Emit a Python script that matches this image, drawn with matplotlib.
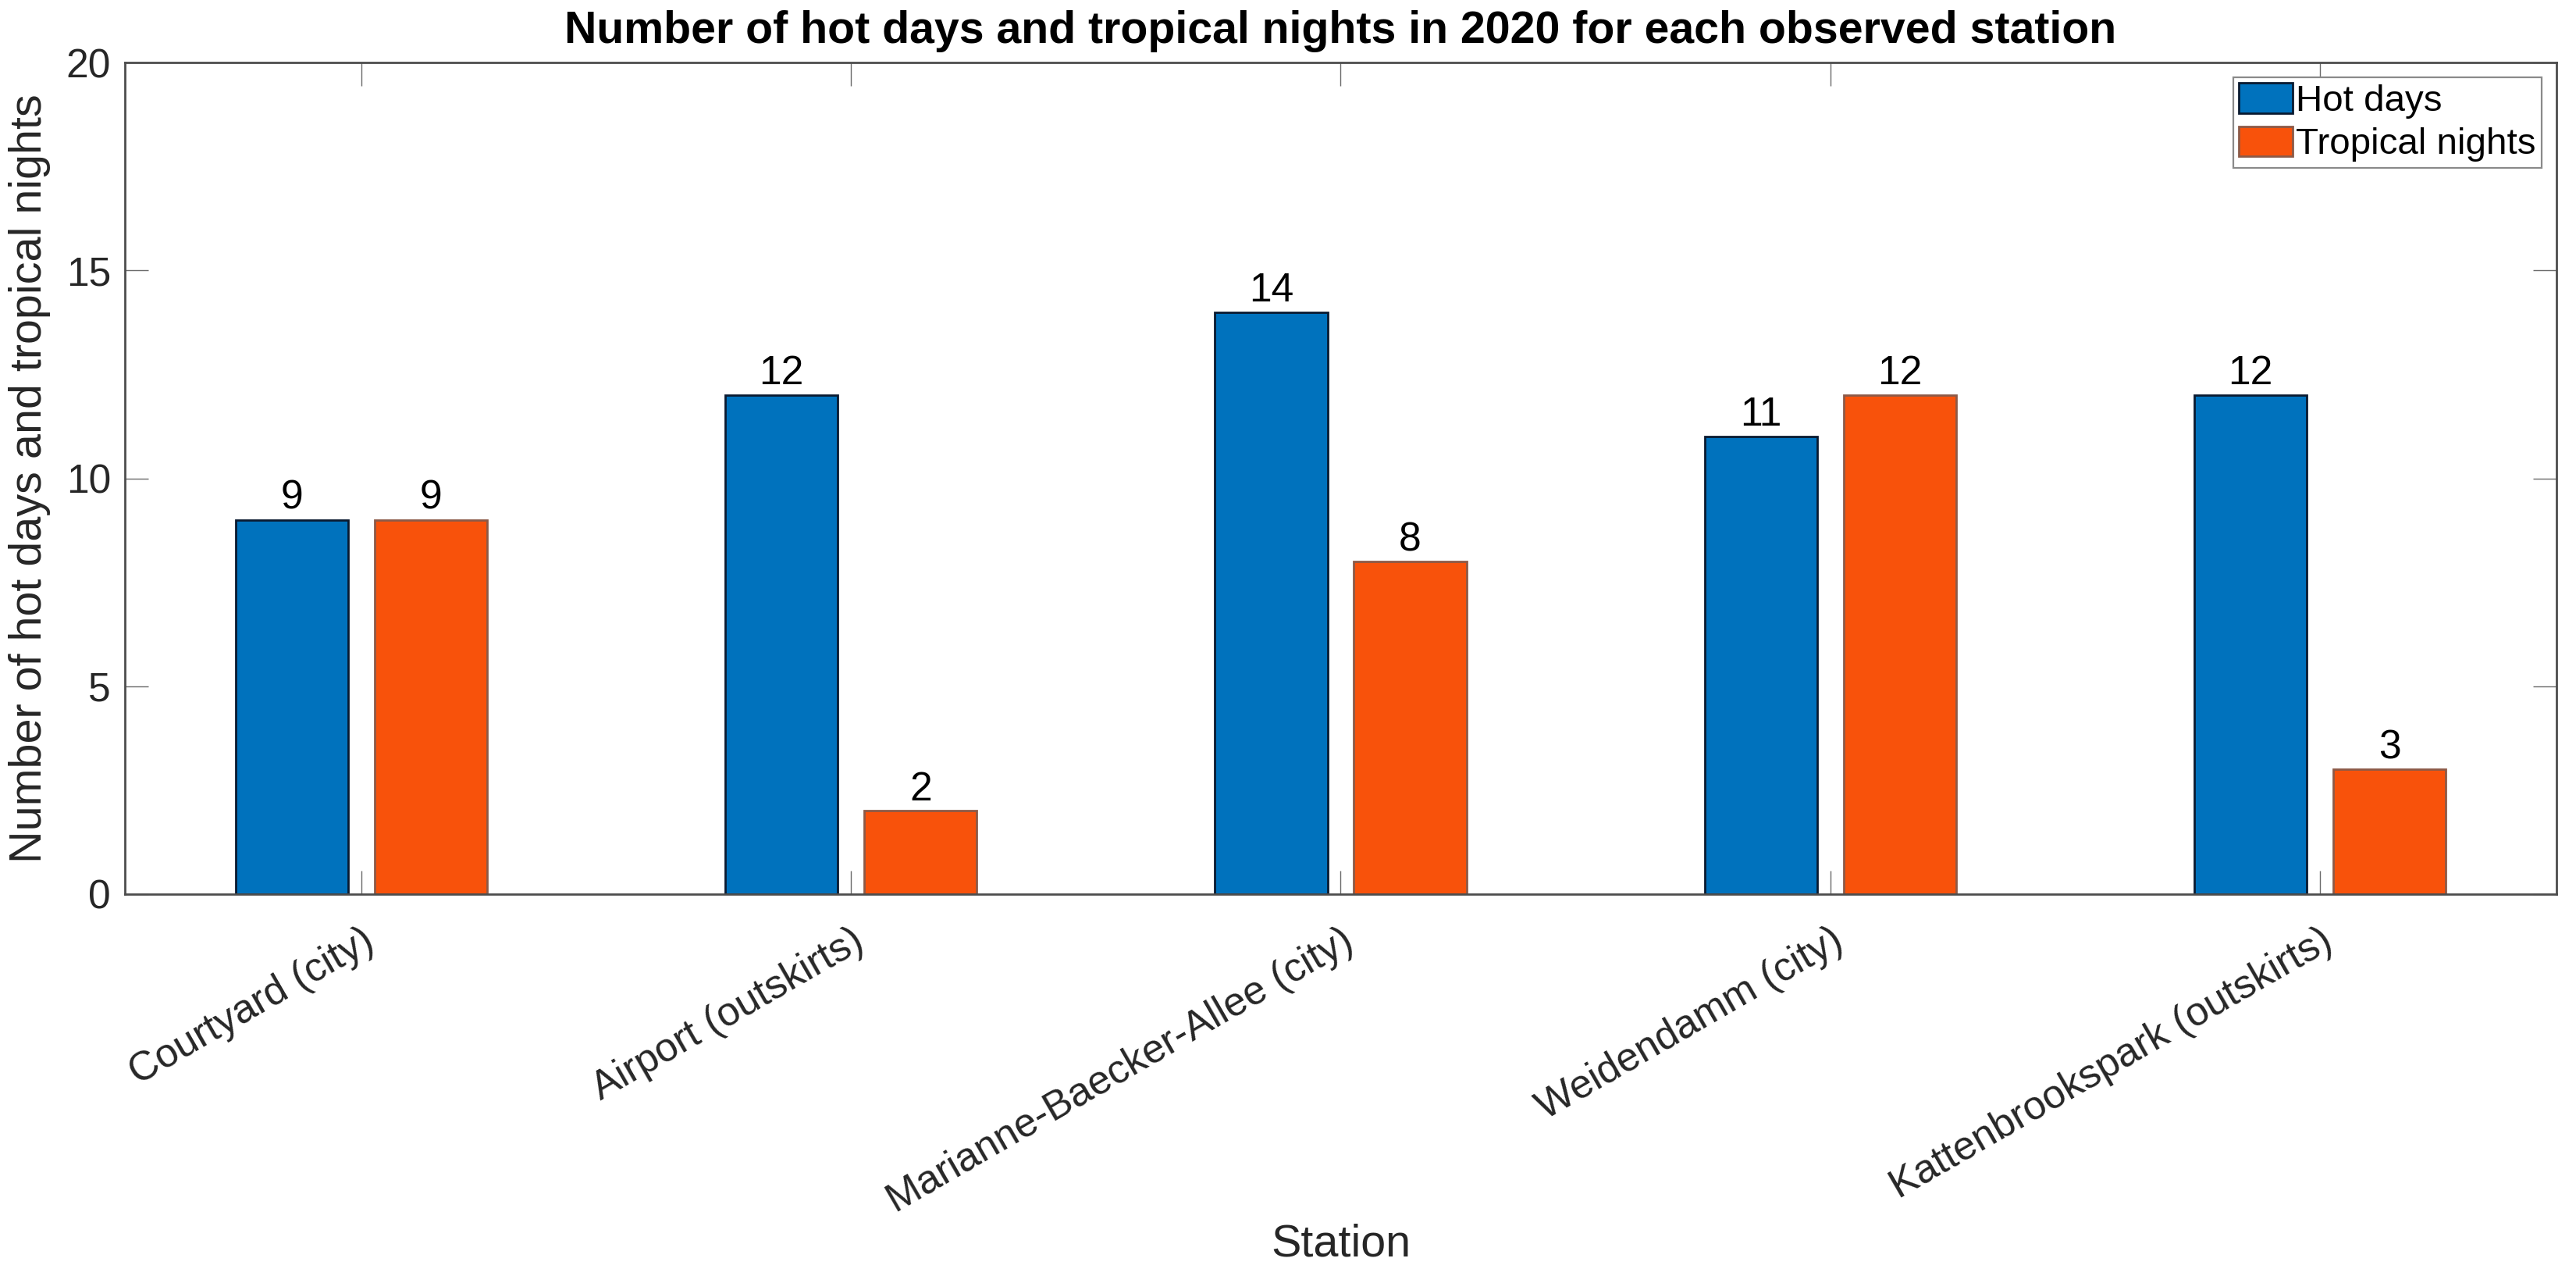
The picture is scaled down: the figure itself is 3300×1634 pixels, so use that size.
import numpy as np
import matplotlib
matplotlib.use('Agg')
import matplotlib.pyplot as plt
from matplotlib.transforms import ScaledTranslation

# data
stations = ['Courtyard (city)', 'Airport (outskirts)', 'Marianne-Baecker-Allee (city)',
            'Weidendamm (city)', 'Kattenbrookspark (outskirts)']
hot_days = [9, 12, 14, 11, 12]
tropical_nights = [9, 2, 8, 12, 3]
yticks = [0, 5, 10, 15, 20]

plt.rcParams['font.family'] = ['Liberation Sans', 'DejaVu Sans']

fig = plt.figure(figsize=(16.5, 8.17), dpi=200)
ax = fig.add_axes([0.0485, 0.2993, 0.9439, 0.6517])

x = np.arange(1, len(stations) + 1)
w = 0.23
off = 0.142
b1 = ax.bar(x - off, hot_days, w, color='#0072BD', edgecolor='#0a1a30', linewidth=1.0, label='Hot days')
b2 = ax.bar(x + off, tropical_nights, w, color='#F8520B', edgecolor='#8c5a48', linewidth=1.0, label='Tropical nights')
ax.bar_label(b1, padding=1, fontsize=18.6)
ax.bar_label(b2, padding=1, fontsize=18.6)

ax.set_xlim(0.517, 5.483)
ax.set_ylim(0, 20)
ax.set_yticks(yticks)
ax.set_xticks(x)
ax.set_xticklabels(stations, rotation=30, ha='right', va='top', rotation_mode='anchor')
for lab in ax.get_xticklabels():
    lab.set_transform(lab.get_transform() + ScaledTranslation(0.115, 0, fig.dpi_scale_trans))

ax.tick_params(axis='both', direction='in', length=10.8, width=0.5, color='#6a6a6a',
               labelsize=18.6, top=True, right=True, labelcolor='#262626')
ax.tick_params(axis='x', pad=12.6)
ax.tick_params(axis='y', pad=6.5)
for s in ax.spines.values():
    s.set_color('#4d4d4d')
    s.set_linewidth(1.0)

ax.set_title('Number of hot days and tropical nights in 2020 for each observed station',
             fontsize=20.6, fontweight='bold', pad=9)
ax.set_ylabel('Number of hot days and tropical nights', fontsize=20.7, color='#262626')
ax.yaxis.set_label_coords(-0.0305, 0.5)
ax.set_xlabel('Station', fontsize=20.7, color='#262626')
ax.xaxis.set_label_coords(0.5, -0.396)

leg = ax.legend(loc='upper right', bbox_to_anchor=(0.9939, 0.982), borderaxespad=0,
                fontsize=17.1, fancybox=False, framealpha=1, edgecolor='#8a8a8a',
                handlelength=1.45, handleheight=0.88, handletextpad=0.1,
                borderpad=0.15, labelspacing=0.2)
leg.get_frame().set_linewidth(0.8)

fig.savefig('out.png', dpi=200)
